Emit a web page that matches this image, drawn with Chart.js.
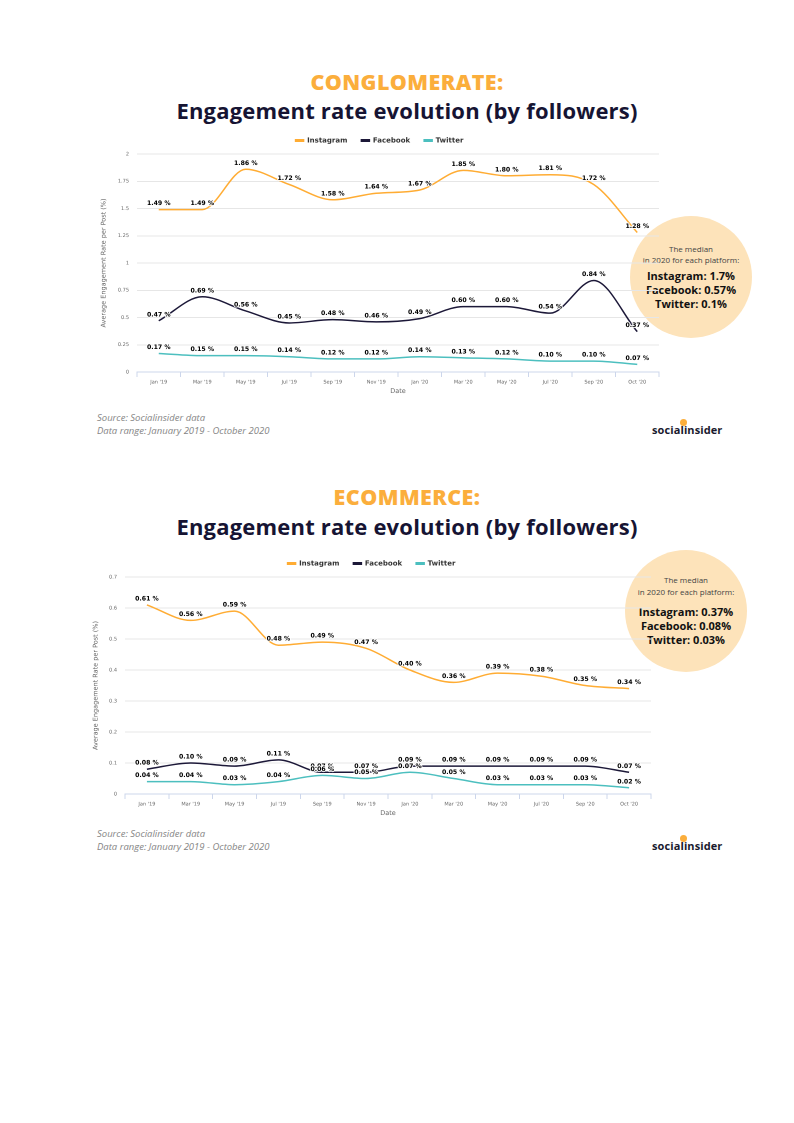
<!DOCTYPE html>
<html><head><meta charset="utf-8">
<script src="https://cdn.jsdelivr.net/npm/chart.js@4"></script>
<style>
html,body{margin:0;padding:0;background:#fff;}
body{width:794px;height:1123px;position:relative;overflow:hidden;font-family:"Open Sans",sans-serif;}
.t1{position:absolute;left:0;width:814px;text-align:center;font-family:"Open Sans";font-weight:800;font-size:21.5px;color:#fbae3c;letter-spacing:0.4px;}
.t2{position:absolute;left:0;width:814px;text-align:center;font-family:"Open Sans";font-weight:700;font-size:22px;color:#161433;letter-spacing:0.2px;}
.cv{position:absolute;}
.circle{position:absolute;border-radius:50%;background:#fde3ba;}
.ct{position:absolute;left:0;width:100%;text-align:center;white-space:nowrap;}
.small{font-size:8px;color:#444;font-family:"Open Sans";}
.big{font-size:11px;font-weight:700;color:#111;font-family:"Open Sans";}
.src{position:absolute;left:97px;font-style:italic;font-size:9.5px;color:#858585;font-family:"Open Sans";line-height:13px;}
.logo{position:absolute;font-family:"Open Sans";font-weight:700;font-size:11px;color:#1a1a2e;letter-spacing:0.1px;}
.dot{position:absolute;width:7px;height:7px;border-radius:50%;background:#fbae3c;}
</style></head>
<body>
<div class="t1" style="top:67px">CONGLOMERATE:</div>
<div class="t2" style="top:95px">Engagement rate evolution (by followers)</div>
<div class="circle" style="left:630px;top:216px;width:122px;height:122px;">
  <div class="ct small" style="top:27px">The median</div>
  <div class="ct small" style="top:38px">in 2020 for each platform:</div>
  <div class="ct big" style="top:52px">Instagram: 1.7%</div>
  <div class="ct big" style="top:66px">Facebook: 0.57%</div>
  <div class="ct big" style="top:80px">Twitter: 0.1%</div>
</div>
<canvas id="c1" class="cv" style="left:100px;top:123px;width:565px;height:275px"></canvas>
<div class="src" style="top:411px">Source: Socialinsider data<br>Data range: January 2019 - October 2020</div>
<div class="dot" style="left:680px;top:419px"></div>
<div class="logo" style="left:652px;top:422px">socialinsider</div>

<div class="t1" style="top:482px">ECOMMERCE:</div>
<div class="t2" style="top:511px">Engagement rate evolution (by followers)</div>
<div class="circle" style="left:625px;top:550px;width:122px;height:122px;">
  <div class="ct small" style="top:24px">The median</div>
  <div class="ct small" style="top:36px">in 2020 for each platform:</div>
  <div class="ct big" style="top:54px">Instagram: 0.37%</div>
  <div class="ct big" style="top:68px">Facebook: 0.08%</div>
  <div class="ct big" style="top:82px">Twitter: 0.03%</div>
</div>
<canvas id="c2" class="cv" style="left:92px;top:546px;width:565px;height:274px"></canvas>
<div class="src" style="top:827px">Source: Socialinsider data<br>Data range: January 2019 - October 2020</div>
<div class="dot" style="left:680px;top:835px"></div>
<div class="logo" style="left:652px;top:838px">socialinsider</div>

<script>
const categories = ["Jan '19","Mar '19","May '19","Jul '19","Sep '19","Nov '19","Jan '20","Mar '20","May '20","Jul '20","Sep '20","Oct '20"];
const seriesNames = ["Instagram","Facebook","Twitter"];
const seriesColors = ["#ffac33","#1c1838","#4cbfbf"];

const conglomerateInstagram = [1.49,1.49,1.86,1.72,1.58,1.64,1.67,1.85,1.80,1.81,1.72,1.28];
const conglomerateFacebook  = [0.47,0.69,0.56,0.45,0.48,0.46,0.49,0.60,0.60,0.54,0.84,0.37];
const conglomerateTwitter   = [0.17,0.15,0.15,0.14,0.12,0.12,0.14,0.13,0.12,0.10,0.10,0.07];
const conglomerateYTicks = {max:2, step:0.25};

const ecommerceInstagram = [0.61,0.56,0.59,0.48,0.49,0.47,0.40,0.36,0.39,0.38,0.35,0.34];
const ecommerceFacebook  = [0.08,0.10,0.09,0.11,0.07,0.07,0.09,0.09,0.09,0.09,0.09,0.07];
const ecommerceTwitter   = [0.04,0.04,0.03,0.04,0.06,0.05,0.07,0.05,0.03,0.03,0.03,0.02];
const ecommerceYTicks = {max:0.7, step:0.1};

const labelPlugin = {
  id:'pointLabels',
  afterDatasetsDraw(chart){
    const ctx = chart.ctx;
    ctx.save();
    ctx.font = 'bold 6.2px "DejaVu Sans"';
    ctx.textAlign = 'center';
    ctx.textBaseline = 'bottom';
    ctx.lineJoin = 'round';
    chart.data.datasets.forEach((ds,di)=>{
      const meta = chart.getDatasetMeta(di);
      meta.data.forEach((pt,i)=>{
        const txt = ds.data[i].toFixed(2) + ' %';
        ctx.strokeStyle = 'rgba(255,255,255,0.9)';
        ctx.lineWidth = 2;
        ctx.strokeText(txt, pt.x, pt.y - 3);
        ctx.fillStyle = '#000';
        ctx.fillText(txt, pt.x, pt.y - 3);
      });
    });
    ctx.restore();
  }
};

function makeChart(id, data3, yt, yWidth){
  new Chart(document.getElementById(id), {
    type:'line',
    data:{
      labels:categories,
      datasets:data3.map((d,i)=>({
        label:seriesNames[i], data:d,
        borderColor:seriesColors[i], backgroundColor:seriesColors[i],
        borderWidth:1.5, pointRadius:0, cubicInterpolationMode:'monotone', fill:false
      }))
    },
    options:{
      responsive:false, animation:false, devicePixelRatio:2,
      layout:{padding:{left:0,right:6,top:0,bottom:3}},
      plugins:{
        legend:{position:'top',align:'center',
          labels:{boxWidth:8,boxHeight:1.5,padding:14,color:'#333',font:{family:'"DejaVu Sans"',size:7,weight:'bold'}}},
        tooltip:{enabled:false}
      },
      scales:{
        x:{offset:true,
          grid:{offset:true,drawOnChartArea:false,drawTicks:true,tickLength:5,color:'#ccd6eb'},
          border:{color:'#ccd6eb'},
          ticks:{color:'#666',font:{family:'"DejaVu Sans"',size:5},padding:2,maxRotation:0,autoSkip:false},
          title:{display:true,text:'Date',color:'#666',font:{family:'"DejaVu Sans"',size:6.5},padding:0},
          afterFit(s){ s.height = 23; }
        },
        y:{min:0,max:yt.max,
          ticks:{stepSize:yt.step,color:'#666',font:{family:'"DejaVu Sans"',size:5},padding:8,
            callback:v=>String(+Number(v).toFixed(2))},
          grid:{color:'#e6e6e6',drawTicks:false},
          border:{display:false},
          title:{display:true,text:'Average Engagement Rate per Post (%)',color:'#666',font:{family:'"DejaVu Sans"',size:6.5},padding:0},
          afterFit(s){ s.width = yWidth; }
        }
      }
    },
    plugins:[labelPlugin]
  });
}
function sizeCanvas(id){const c=document.getElementById(id);c.width=parseInt(c.style.width);c.height=parseInt(c.style.height);}
sizeCanvas('c1');sizeCanvas('c2');
makeChart('c1',[conglomerateInstagram,conglomerateFacebook,conglomerateTwitter],conglomerateYTicks,37);
makeChart('c2',[ecommerceInstagram,ecommerceFacebook,ecommerceTwitter],ecommerceYTicks,33);
</script>
</body></html>
